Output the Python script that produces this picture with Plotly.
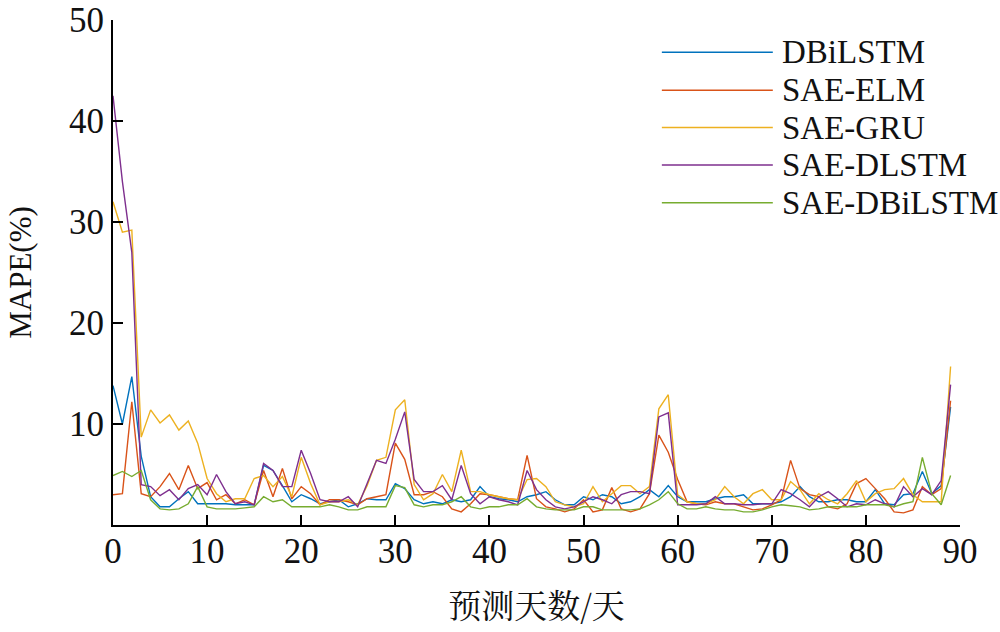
import plotly.graph_objects as go

days = list(range(90))
x_ticks = [0, 10, 20, 30, 40, 50, 60, 70, 80, 90]
y_ticks = [10, 20, 30, 40, 50]

names = ["DBiLSTM", "SAE-ELM", "SAE-GRU", "SAE-DLSTM", "SAE-DBiLSTM"]
colors = ["#0072BD", "#D95319", "#EDB120", "#7E2F8E", "#77AC30"]

dbilstm = [13.8, 10.0, 14.7, 6.8, 2.8, 1.8, 1.8, 2.6, 3.3, 2.1, 2.1, 2.1, 2.1, 2.0, 2.0, 2.0,
           5.9, 5.4, 3.9, 2.3, 3.0, 2.6, 2.1, 2.3, 2.5, 1.8, 2.1, 2.6, 2.5, 2.5, 4.1,
           3.6, 2.5, 2.1, 2.3, 2.1, 2.5, 2.3, 2.5, 3.8, 2.8, 2.6, 2.5, 2.3, 2.8, 3.0,
           3.3, 2.5, 2.0, 2.0, 2.8, 2.5, 3.0, 2.8, 2.1, 2.3, 2.8, 3.5, 2.8, 3.9, 2.8,
           2.3, 2.3, 2.3, 2.6, 2.8, 2.8, 3.0, 2.1, 2.1, 2.1, 2.3, 2.8, 3.8, 2.8, 2.3,
           2.3, 2.5, 2.5, 2.3, 2.3, 3.5, 2.1, 2.0, 3.0, 3.1, 5.3, 3.1, 3.9, 11.7]

sae_elm = [3.0, 3.1, 12.2, 3.1, 2.8, 3.8, 5.1, 3.5, 5.9, 3.6, 4.2, 2.5, 3.0, 2.1, 2.5, 2.0,
           5.4, 2.8, 5.6, 2.6, 3.8, 3.1, 2.0, 2.5, 2.5, 2.3, 2.0, 2.6, 2.8, 3.0, 8.1,
           6.5, 3.0, 3.0, 3.3, 2.8, 1.6, 1.3, 2.1, 3.1, 3.0, 2.8, 2.6, 2.5, 6.9, 2.6,
           1.8, 1.6, 1.3, 1.6, 2.5, 1.3, 1.5, 3.7, 1.6, 1.3, 1.6, 3.1, 8.9, 7.2, 4.5,
           2.3, 2.1, 2.0, 2.3, 2.1, 2.1, 1.8, 1.5, 1.6, 2.0, 2.5, 6.4, 3.6, 3.0, 2.8,
           1.8, 1.6, 2.1, 4.1, 4.6, 3.6, 2.6, 1.3, 1.2, 1.5, 3.8, 3.0, 3.6, 12.3]

sae_gru = [32.0, 29.0, 29.2, 8.7, 11.4, 10.1, 10.9, 9.4, 10.3, 8.1, 4.6, 3.1, 2.3, 2.6, 2.6, 4.6,
           4.9, 3.8, 4.8, 2.8, 6.7, 4.1, 2.0, 2.3, 2.3, 2.5, 2.0, 3.9, 6.4, 6.7, 11.4,
           12.4, 4.0, 2.5, 3.1, 5.0, 3.3, 7.4, 3.3, 3.3, 3.0, 2.8, 2.6, 2.5, 4.5, 4.6,
           3.8, 2.3, 2.0, 1.8, 2.1, 3.8, 2.3, 3.1, 3.9, 3.9, 3.1, 3.8, 11.5, 12.9, 3.0,
           2.3, 2.1, 2.1, 2.5, 3.8, 2.8, 2.1, 3.1, 3.5, 2.5, 2.5, 4.3, 3.5, 2.1, 3.1,
           2.5, 2.1, 3.1, 4.4, 2.3, 3.1, 3.5, 3.6, 4.6, 3.0, 2.3, 2.3, 2.3, 15.7]

sae_dlstm = [42.5, 34.0, 27.0, 4.0, 3.8, 2.9, 3.5, 2.5, 3.6, 4.0, 3.0, 5.0, 3.3, 2.1, 2.3, 2.0,
             6.1, 5.4, 3.8, 3.8, 7.4, 5.1, 2.5, 2.3, 2.3, 2.8, 1.8, 4.1, 6.4, 6.1, 8.5,
             11.2, 4.5, 3.3, 3.3, 3.9, 2.5, 5.9, 3.1, 2.1, 2.8, 2.5, 2.3, 2.0, 5.4, 3.5,
             2.5, 1.8, 1.6, 1.8, 2.3, 2.8, 2.5, 2.1, 3.0, 3.3, 3.3, 3.1, 10.7, 11.1, 2.0,
             2.0, 2.0, 2.1, 2.8, 2.1, 2.1, 2.0, 2.0, 2.1, 2.1, 3.5, 3.1, 2.5, 1.8, 2.8,
             3.3, 2.6, 1.8, 2.1, 2.0, 2.5, 2.1, 1.8, 3.8, 2.8, 3.6, 3.0, 4.4, 13.9]

sae_dbilstm = [4.9, 5.3, 4.8, 5.4, 2.5, 1.6, 1.5, 1.6, 2.1, 3.8, 1.8, 1.6, 1.6, 1.6, 1.7, 1.8,
               2.8, 2.3, 2.5, 1.8, 1.8, 1.8, 1.8, 2.0, 1.8, 1.5, 1.5, 1.8, 1.8, 1.8, 3.9,
               3.7, 2.0, 1.8, 2.0, 2.0, 2.3, 2.8, 1.8, 1.6, 1.8, 1.8, 2.0, 2.0, 2.6, 1.8,
               1.6, 1.5, 1.5, 1.5, 1.8, 1.8, 1.5, 1.5, 1.5, 1.5, 1.6, 2.0, 2.5, 3.3, 2.1,
               1.6, 1.6, 1.8, 1.6, 1.5, 1.5, 1.3, 1.3, 1.5, 1.8, 2.0, 1.9, 1.8, 1.5, 1.6,
               1.8, 1.8, 1.8, 1.8, 2.0, 2.0, 2.0, 1.8, 2.1, 2.3, 6.7, 3.1, 2.0, 4.9]

series = [dbilstm, sae_elm, sae_gru, sae_dlstm, sae_dbilstm]

SERIF = "Liberation Serif, Times New Roman, serif"

fig = go.Figure()
for name, vals, col in zip(names, series, colors):
    fig.add_trace(go.Scatter(x=days, y=vals, mode="lines", name=name,
                             line=dict(color=col, width=1.4), showlegend=False))

# custom legend (long line samples like the original)
leg_y = [0.936, 0.861, 0.787, 0.713, 0.638]
for name, col, yy in zip(names, colors, leg_y):
    fig.add_shape(type="line", xref="paper", yref="paper",
                  x0=0.648, x1=0.779, y0=yy, y1=yy,
                  line=dict(color=col, width=1.6))
    fig.add_annotation(xref="paper", yref="paper", x=0.788, y=yy,
                       text=name, showarrow=False, xanchor="left", yanchor="middle",
                       font=dict(family=SERIF, size=33, color="#111"))

fig.update_layout(
    width=1000, height=632,
    margin=dict(l=113, r=40, t=20, b=107),
    paper_bgcolor="white", plot_bgcolor="white",
    xaxis=dict(range=[0, 90], tickvals=x_ticks, ticks="inside", ticklen=10,
               tickwidth=1.5, tickcolor="black", showline=True, linecolor="black",
               linewidth=2, showgrid=False, zeroline=False, automargin=False,
               tickfont=dict(family=SERIF, size=35, color="#111"),
               ticklabelstandoff=-6, ticklabeloverflow="allow",
               title=dict(text="预测天数/天", standoff=25,
                          font=dict(family="Noto Serif CJK SC, Noto Sans CJK SC, serif",
                                    size=33, color="#111"))),
    yaxis=dict(range=[0, 50], tickvals=y_ticks, ticks="inside", ticklen=10,
               tickwidth=1.5, tickcolor="black", showline=True, linecolor="black",
               linewidth=2, showgrid=False, zeroline=False, automargin=False,
               tickfont=dict(family=SERIF, size=35, color="#111"),
               ticklabelstandoff=0, ticklabeloverflow="allow",
               title=dict(text="MAPE(%)", standoff=28,
                          font=dict(family=SERIF, size=31, color="#111"))),
)

fig.write_html("out.html", config={"displayModeBar": False},
               post_script="document.body.style.margin='0';")
